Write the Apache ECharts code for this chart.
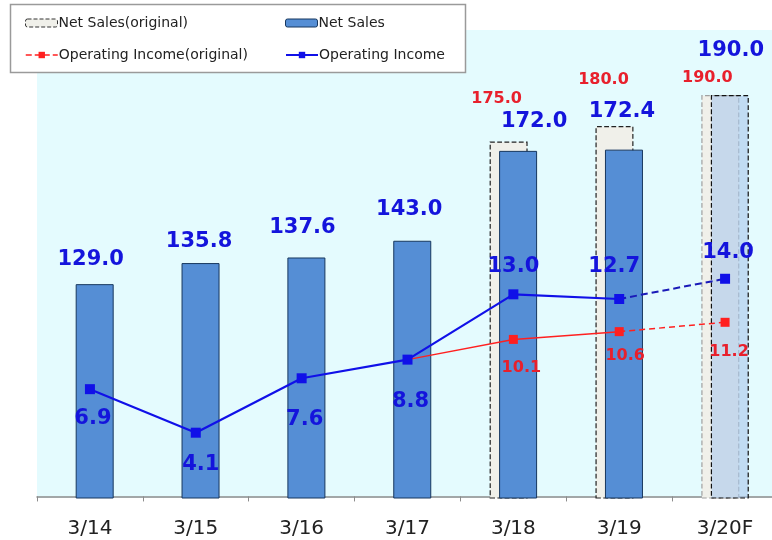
<!DOCTYPE html>
<html>
<head>
<meta charset="utf-8">
<script src="https://cdn.jsdelivr.net/npm/echarts@6/dist/echarts.min.js"></script>
<style>html,body{margin:0;padding:0;background:#fff;}#c{width:772px;height:540px;}</style>
</head>
<body>
<div id="c"></div>
<script>
var categories = ['3/14', '3/15', '3/16', '3/17', '3/18', '3/19', '3/20F'];
var netSales = [129.0, 135.8, 137.6, 143.0, 172.0, 172.4, 190.0];
var netSalesOriginal = [null, null, null, null, 175.0, 180.0, 190.0];
var opIncome = [6.9, 4.1, 7.6, 8.8, 13.0, 12.7, 14.0];
var opIncomeOriginal = [null, null, null, 8.8, 10.1, 10.6, 11.2];

var FONT = 'DejaVu Sans';
var BLUE_TXT = '#1414DC';
var RED_TXT = '#E8202C';

// label placement tweaks (pixels)
var salesLblDx = [-4, -1.5, -4, -3, 16, -2, 1];
var salesLblDy = [-25, -22, -30, -31, -29, -38, -45];
var origLblDx = [0, 0, 0, 0, -12, -11, -13];
var origLblDy = [0, 0, 0, 0, -43, -46, -17];
var opLblOff = [[3, 29], [5, 32], [3, 41], [3, 42], [0, -28], [-5, -32], [3, -26]];
var origOpLblOff = [[0, 0], [0, 0], [0, 0], [0, 0], [8, 28], [6, 24], [4, 30]];

var last = categories.length - 1;

var salesData = netSales.map(function (v, i) {
  var item = {
    value: v,
    label: { position: ['50%', salesLblDy[i]], offset: [salesLblDx[i], 0] }
  };
  if (i === last) {
    item.itemStyle = { color: 'rgba(170,200,235,0.6)', borderColor: '#111', borderType: 'dashed', borderWidth: 1.2 };
  }
  return item;
});

var origData = netSalesOriginal.map(function (v, i) {
  if (v == null) return '-';
  var item = {
    value: v,
    label: { position: ['50%', origLblDy[i]], offset: [origLblDx[i], 0] }
  };
  if (i === last) {
    item.itemStyle = { color: '#F0F0EA', borderColor: '#A0A0A0', borderType: 'dashed', borderWidth: 1.2 };
  }
  return item;
});

var opSolid = opIncome.map(function (v, i) {
  if (i === last) return '-';
  return { value: v, label: { offset: opLblOff[i] } };
});
var opDashed = opIncome.map(function (v, i) {
  if (i < last - 1) return '-';
  if (i === last - 1) return { value: v, symbol: 'none', label: { show: false } };
  return { value: v, label: { offset: opLblOff[i] } };
});
var origSolid = opIncomeOriginal.map(function (v, i) {
  if (v == null || i === last) return '-';
  if (i === 3) return { value: v, symbol: 'none', label: { show: false } };
  return { value: v, label: { offset: origOpLblOff[i] } };
});
var origDashed = opIncomeOriginal.map(function (v, i) {
  if (i < last - 1) return '-';
  if (i === last - 1) return { value: v, symbol: 'none', label: { show: false } };
  return { value: v, label: { offset: origOpLblOff[i] } };
});

var chart = echarts.init(document.getElementById('c'), null, { renderer: 'canvas' });

function legendAt(name, left, top, extra) {
  var d = { name: name };
  if (extra) for (var k in extra) d[k] = extra[k];
  return {
    data: [d], left: left, top: top, padding: 0, z: 20,
    itemWidth: 32, itemHeight: 8, selectedMode: false,
    textStyle: { fontFamily: FONT, fontSize: 14, color: '#222', padding: [0, 0, 0, -4] }
  };
}

chart.setOption({
  animation: false,
  backgroundColor: '#ffffff',
  textStyle: { fontFamily: FONT },
  grid: {
    left: 37, width: 741, top: 30, height: 468,
    outerBoundsMode: 'none', containLabel: false,
    show: true, backgroundColor: '#E4FBFE', borderWidth: 0
  },
  graphic: [{
    type: 'rect', z: 10,
    shape: { x: 10.5, y: 4.5, width: 455, height: 68 },
    style: { fill: '#ffffff', stroke: '#9a9a9a', lineWidth: 1.5 }
  }],
  legend: [
    legendAt('Net Sales(original)', 25, 16, { itemStyle: { color: '#F0F0EA', borderColor: '#333', borderType: 'dashed', borderWidth: 1 } }),
    legendAt('Net Sales', 285, 16, { itemStyle: { color: '#558ED5', borderColor: '#17375E', borderWidth: 1 } }),
    legendAt('Operating Income(original)', 25, 48, { lineStyle: { type: 'dashed', color: '#FF2020', width: 1.5 } }),
    legendAt('Operating Income', 285, 48, { lineStyle: { color: '#1010E8', width: 2 } })
  ],
  xAxis: {
    type: 'category',
    data: categories,
    axisLine: { lineStyle: { color: '#8c8c8c', width: 1.5 } },
    axisTick: { show: true, length: 5, lineStyle: { color: '#8c8c8c', width: 1 } },
    axisLabel: { fontFamily: FONT, fontSize: 20, color: '#222', margin: 21 },
    splitLine: { show: false }
  },
  yAxis: [
    { type: 'value', min: 60, max: 211, show: false, splitLine: { show: false } },
    { type: 'value', min: -0.1, max: 30, show: false, splitLine: { show: false } }
  ],
  series: [
    {
      name: 'Net Sales(original)', type: 'bar', yAxisIndex: 0,
      barWidth: 38, barGap: '-75%',
      data: origData,
      itemStyle: { color: '#F0F0EA', borderColor: '#222', borderType: 'dashed', borderWidth: 1.2 },
      label: {
        show: true, align: 'center', verticalAlign: 'middle',
        fontFamily: FONT, fontWeight: 'bold', fontSize: 16, color: RED_TXT,
        formatter: function (p) { return p.value.toFixed(1); }
      },
      z: 2
    },
    {
      name: 'Net Sales', type: 'bar', yAxisIndex: 0,
      barWidth: 38, barGap: '-75%',
      data: salesData,
      itemStyle: { color: '#558ED5', borderColor: '#17375E', borderWidth: 1 },
      label: {
        show: true, align: 'center', verticalAlign: 'middle',
        fontFamily: FONT, fontWeight: 'bold', fontSize: 21, color: BLUE_TXT,
        formatter: function (p) { return p.value.toFixed(1); }
      },
      z: 3
    },
    {
      name: 'Operating Income(original)', type: 'line', yAxisIndex: 1,
      data: origSolid, connectNulls: false,
      symbol: 'rect', symbolSize: 9,
      lineStyle: { color: '#FF2020', width: 1.5 },
      itemStyle: { color: '#FF2020' },
      label: {
        show: true, position: 'inside',
        fontFamily: FONT, fontWeight: 'bold', fontSize: 16, color: RED_TXT,
        formatter: function (p) { return p.value.toFixed(1); }
      },
      z: 5
    },
    {
      name: 'origDashed', type: 'line', yAxisIndex: 1,
      data: origDashed,
      symbol: 'rect', symbolSize: 9,
      lineStyle: { color: '#FF2020', width: 1.5, type: [6, 4] },
      itemStyle: { color: '#FF2020' },
      label: {
        show: true, position: 'inside',
        fontFamily: FONT, fontWeight: 'bold', fontSize: 16, color: RED_TXT,
        formatter: function (p) { return p.value.toFixed(1); }
      },
      z: 5
    },
    {
      name: 'Operating Income', type: 'line', yAxisIndex: 1,
      data: opSolid,
      symbol: 'rect', symbolSize: 10,
      lineStyle: { color: '#1010E8', width: 2.2 },
      itemStyle: { color: '#1010E8' },
      label: {
        show: true, position: 'inside',
        fontFamily: FONT, fontWeight: 'bold', fontSize: 21, color: BLUE_TXT,
        formatter: function (p) { return p.value.toFixed(1); }
      },
      z: 6
    },
    {
      name: 'opDashed', type: 'line', yAxisIndex: 1,
      data: opDashed,
      symbol: 'rect', symbolSize: 10,
      lineStyle: { color: '#1A1AB8', width: 2, type: [7, 4] },
      itemStyle: { color: '#1010E8' },
      label: {
        show: true, position: 'inside',
        fontFamily: FONT, fontWeight: 'bold', fontSize: 21, color: BLUE_TXT,
        formatter: function (p) { return p.value.toFixed(1); }
      },
      z: 6
    }
  ]
});
</script>
</body>
</html>
